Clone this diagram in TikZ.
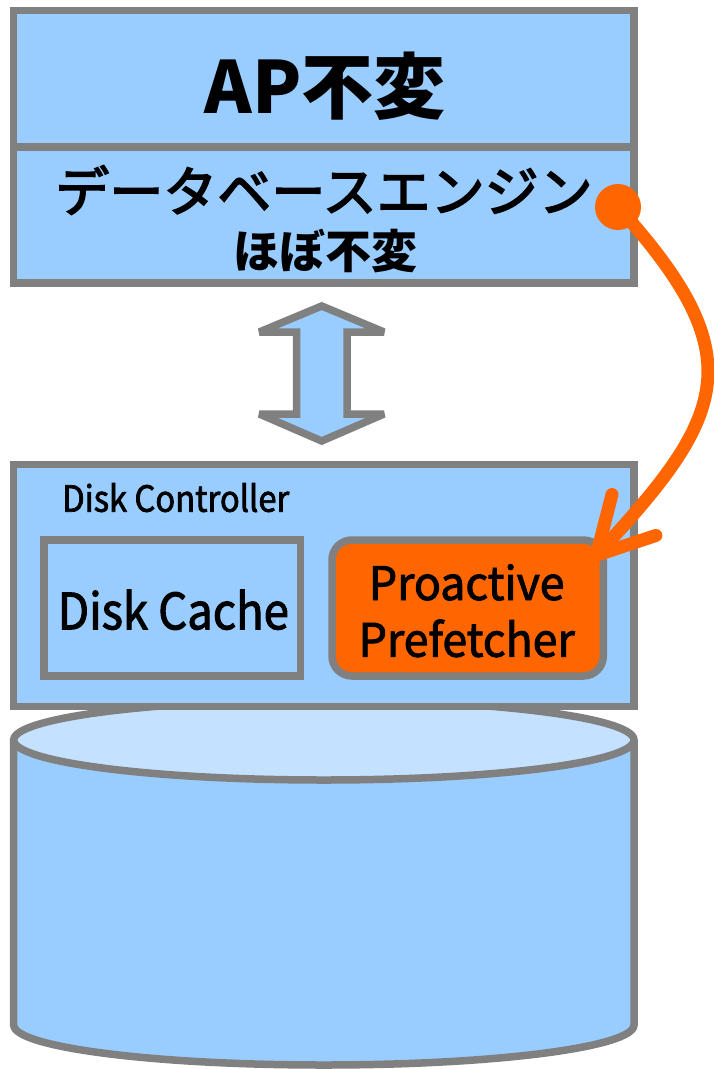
\documentclass[tikz,border=0pt]{standalone}
\usepackage{fontspec}
\setmainfont{Noto Sans CJK JP}
\newfontfamily\jpmid{Noto Sans CJK JP}[FakeBold=3]
\newfontfamily\latin{Noto Sans CJK JP}[FakeStretch=0.91, FakeBold=2]
\newfontfamily\latinwide{Noto Sans CJK JP}[FakeStretch=0.97, FakeBold=2]
\usetikzlibrary{arrows.meta}

\definecolor{skyblue}{HTML}{99CCFF}
\definecolor{capblue}{HTML}{C4E2FF}
\definecolor{edge}{HTML}{808080}
\definecolor{signal}{HTML}{FF6600}

\tikzset{
  panel/.style={rectangle, draw=edge, fill=skyblue, line width=7.5pt, inner sep=0pt},
  hotpanel/.style={panel, fill=signal, rounded corners=20pt},
  caption/.style={inner sep=0pt, text=black},
  flow/.style={draw=signal, line width=13pt, line cap=round,
    -{Straight Barb[length=55pt, width=60pt, round]}},
}

\begin{document}
\begin{tikzpicture}[x=1pt, y=-1pt]
  \useasboundingbox (0,0) rectangle (713,1069);
  \fill[white] (0,0) rectangle (713,1069);

  % application and database engine layers
  \node[panel, minimum width=620.3pt, minimum height=136.5pt] (ap) at (323.85,78.75) {};
  \node[panel, minimum width=620.3pt, minimum height=136pt] (engine) at (323.85,215) {};
  \node[caption, font=\bfseries\fontsize{72}{80}\selectfont] (aptext) at (325,86) {AP不変};
  \node[caption, font=\jpmid\fontsize{54}{60}\selectfont] (engtext) at (324,190) {データベースエンジン};
  \node[caption, font=\bfseries\fontsize{46}{54}\selectfont] (engnote) at (325,251) {ほぼ不変};

  % two-way transfer between engine and storage
  \draw[edge, fill=skyblue, line width=7.5pt, line join=miter, miter limit=4]
    (321.7,306) -- (384,332) -- (347,332) -- (347,414) -- (384,414) -- (321.7,441)
    -- (259.4,414) -- (296.5,414) -- (296.5,332) -- (259.4,332) -- cycle;

  % disk drum
  \fill[skyblue] (13.7,740) -- (13.7,1025)
    .. controls (13.7,1047.1) and (152.55,1065) .. (323.85,1065)
    .. controls (495.15,1065) and (634,1047.1) .. (634,1025)
    -- (634,740) -- cycle;
  \draw[edge, line width=7.5pt] (13.7,740) -- (13.7,1025)
    .. controls (13.7,1047.1) and (152.55,1065) .. (323.85,1065)
    .. controls (495.15,1065) and (634,1047.1) .. (634,1025)
    -- (634,740);
  \draw[edge, fill=capblue, line width=7.5pt] (323.85,740) ellipse [x radius=310.15, y radius=40];

  % disk controller with its cache and prefetcher
  \node[panel, minimum width=620.3pt, minimum height=242pt] (ctrl) at (323.85,585.5) {};
  \node[caption, anchor=base west, font=\latin\fontsize{36}{40}\selectfont] (ctrltext) at (62,511.7) {Disk Controller};
  \node[panel, minimum width=256.3pt, minimum height=136pt] (cache) at (172.15,608) {};
  \node[caption, anchor=base, font=\latin\fontsize{50}{56}\selectfont] (cachetext) at (173.4,629.3) {Disk Cache};
  \node[hotpanel, minimum width=271.3pt, minimum height=136pt] (pf) at (467.65,608) {};
  \node[caption, anchor=base, font=\latinwide\fontsize{46}{50}\selectfont] (pftext1) at (466.7,600) {Proactive};
  \node[caption, anchor=base, font=\latinwide\fontsize{46}{50}\selectfont] (pftext2) at (466.7,656.7) {Prefetcher};

  % prefetch hint from the engine to the prefetcher
  \node[circle, fill=signal, minimum size=46pt, inner sep=0pt] (hint) at (618,207) {};
  \coordinate (hintend) at (592,560);
  \draw[flow] (hint.center) .. controls (752,355) and (728,414) .. (hintend);
\end{tikzpicture}
\end{document}
